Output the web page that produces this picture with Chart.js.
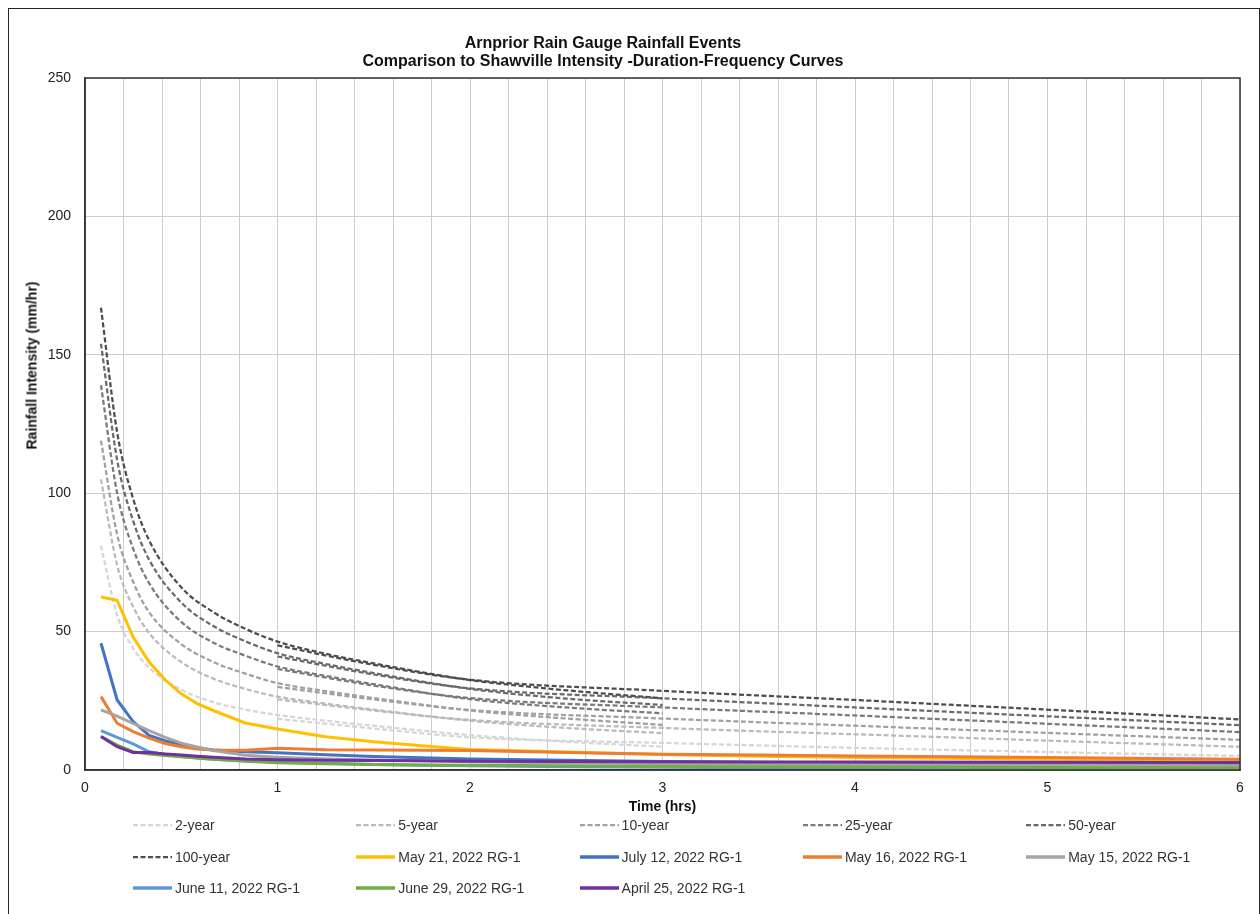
<!DOCTYPE html>
<html>
<head>
<meta charset="utf-8">
<script src="https://cdn.jsdelivr.net/npm/chart.js@4.4.0/dist/chart.umd.min.js"></script>
<style>
  body { margin: 0; background: #fff; font-family: 'Liberation Sans', Arial, sans-serif; }
  #wrap { position: relative; width: 1260px; height: 914px; overflow: hidden; }
  #frame { position: absolute; left: 8px; top: 8px; width: 1250px; height: 920px; border: 1px solid #262626; }
  #chart { position: absolute; left: 0; top: 0; }
  #title { position: absolute; left: 253px; top: 34px; width: 700px; text-align: center;
           font-weight: bold; font-size: 16px; line-height: 18px; color: #111; }
  #ytitle { position: absolute; left: -68px; top: 357px; width: 200px; height: 17px; line-height: 17px;
            text-align: center; font-weight: bold; font-size: 14px; color: #111; transform: rotate(-90deg); }
  .item { position: absolute; height: 20px; display: flex; align-items: center; font-size: 14px; color: #333; white-space: nowrap; }
  .item svg { margin-right: 3px; }
</style>
</head>
<body>
<div id="wrap">
  <div id="frame"></div>
  <canvas id="chart" width="1260" height="914"></canvas>
  <div id="title">Arnprior Rain Gauge Rainfall Events<br>Comparison to Shawville Intensity -Duration-Frequency Curves</div>
  <div id="ytitle">Rainfall Intensity (mm/hr)</div>
  <div id="legend"></div>
</div>
<script>
// IDF curves (short-duration fit up to 3 hrs, long-duration fit from 1 hr)
const idfTimesShort = [0.083, 0.167, 0.25, 0.333, 0.5, 0.667, 0.833, 1, 1.25, 1.5, 2, 2.5, 3];
const idfTimesLong = [1, 1.5, 2, 3, 4, 5, 6];

const idf2Short   = [81, 56, 44, 37, 29, 24.5, 21.8, 19.9, 17.8, 16, 12.6, 10.2, 8.4];
const idf5Short   = [105, 74, 59, 49.5, 39, 33, 29.3, 26.5, 24, 21.8, 17.8, 15.2, 13.3];
const idf10Short  = [119, 85, 68, 57, 45.5, 39, 34.8, 31.4, 28.5, 26, 21.5, 18.6, 16.3];
const idf25Short  = [139, 100, 80, 67.5, 53.5, 46, 41.3, 37.4, 34, 31, 25.6, 22.6, 20.5];
const idf50Short  = [154, 112, 90, 76, 60.5, 52, 46.5, 42.2, 38.3, 35, 29.3, 25.8, 23.5];
const idf100Short = [167, 122, 98, 83, 66, 57, 51, 46.4, 42, 38.5, 32.5, 28.8, 25.9];

const idf2Long   = [18.5, 15, 11.8, 9.8, 8.0, 6.5, 5.1];
const idf5Long   = [25.5, 21.5, 18.1, 15.2, 12.9, 10.6, 8.4];
const idf10Long  = [30, 25.5, 21.7, 18.6, 16, 13.4, 10.9];
const idf25Long  = [36.5, 30.5, 26, 22.6, 19.7, 16.7, 13.7];
const idf50Long  = [41, 34.5, 29.5, 25.9, 22.6, 19.4, 16.2];
const idf100Long = [45, 38, 32.6, 28.6, 25.3, 21.8, 18.3];

// recorded events at the Arnprior gauge
const eventTimes = [0.083, 0.167, 0.25, 0.333, 0.417, 0.5, 0.583, 0.667, 0.833, 1, 1.25, 1.5, 1.75, 2, 2.5, 3, 3.5, 4, 5, 6];
const may21 = [62.5, 61.3, 48, 39, 32.5, 27.5, 24, 21.5, 17, 14.8, 12, 10.2, 8.8, 7.4, 6.5, 5.6, 5.0, 4.5, 3.9, 3.4];
const jul12 = [45.8, 25.3, 17.5, 12.5, 10.5, 9.2, 8.0, 7.2, 6.6, 6.2, 5.5, 4.9, 4.4, 4.0, 3.5, 3.1, 2.8, 2.5, 2.1, 1.8];
const may16 = [26.5, 16.9, 13.9, 11.5, 9.6, 8.4, 7.6, 7.2, 7.1, 7.9, 7.3, 7.2, 7.1, 7.0, 6.3, 5.7, 5.4, 5.1, 4.5, 3.9];
const may15 = [21.7, 19.5, 16.8, 14.2, 11.8, 9.7, 8.3, 7.0, 5.3, 4.6, 4.0, 3.6, 3.3, 3.0, 2.6, 2.3, 2.1, 1.9, 1.7, 1.5];
const jun11 = [14.2, 11.8, 9.4, 6.6, 5.6, 4.9, 4.3, 3.9, 3.3, 2.9, 2.4, 2.0, 1.7, 1.5, 1.2, 1.0, 0.8, 0.7, 0.5, 0.4];
const jun29 = [12.1, 9.0, 6.6, 5.8, 5.2, 4.8, 4.3, 3.9, 3.2, 2.6, 2.3, 2.0, 1.8, 1.7, 1.5, 1.3, 1.2, 1.1, 0.9, 0.7];
const apr25 = [12.1, 8.4, 6.3, 6.3, 5.8, 5.4, 5.0, 4.6, 4.0, 3.7, 3.5, 3.4, 3.3, 3.2, 3.1, 3.0, 2.9, 2.9, 2.8, 2.7];

const idfSeries = [
  { label: '2-year',   short: idf2Short,   long: idf2Long,   color: '#d6d6d6' },
  { label: '5-year',   short: idf5Short,   long: idf5Long,   color: '#bababa' },
  { label: '10-year',  short: idf10Short,  long: idf10Long,  color: '#a0a0a0' },
  { label: '25-year',  short: idf25Short,  long: idf25Long,  color: '#7a7a7a' },
  { label: '50-year',  short: idf50Short,  long: idf50Long,  color: '#6a6a6a' },
  { label: '100-year', short: idf100Short, long: idf100Long, color: '#4d4d4d' }
];
const eventSeries = [
  { label: 'May 21, 2022 RG-1',   values: may21, color: '#ffc000' },
  { label: 'July 12, 2022 RG-1',  values: jul12, color: '#4472c4' },
  { label: 'May 16, 2022 RG-1',   values: may16, color: '#ed7d31' },
  { label: 'May 15, 2022 RG-1',   values: may15, color: '#a5a5a5' },
  { label: 'June 11, 2022 RG-1',  values: jun11, color: '#5b9bd5' },
  { label: 'June 29, 2022 RG-1',  values: jun29, color: '#70ad47' },
  { label: 'April 25, 2022 RG-1', values: apr25, color: '#7030a0' }
];

const DASH = [5, 2.5];
const toPoints = (xs, ys) => xs.map((x, i) => ({ x: x, y: ys[i] }));

const datasets = [];
idfSeries.forEach(s => {
  datasets.push({ label: s.label, data: toPoints(idfTimesShort, s.short), borderColor: s.color,
    borderWidth: 2.25, borderDash: DASH, cubicInterpolationMode: 'monotone' });
  datasets.push({ label: s.label + ' (long)', data: toPoints(idfTimesLong, s.long), borderColor: s.color,
    borderWidth: 2.25, borderDash: DASH, cubicInterpolationMode: 'monotone' });
});
eventSeries.forEach(s => {
  datasets.push({ label: s.label, data: toPoints(eventTimes, s.values), borderColor: s.color, borderWidth: 3 });
});
// later series on top, like the spreadsheet
datasets.forEach((d, i) => {
  d.order = datasets.length - i;
  d.showLine = true;
  d.pointRadius = 0;
  d.fill = false;
});

const plotFrame = {
  id: 'plotFrame',
  afterDraw(chart) {
    const { ctx, chartArea: a } = chart;
    ctx.save();
    ctx.strokeStyle = '#333';
    ctx.lineWidth = 1.5;
    ctx.strokeRect(a.left, a.top, a.right - a.left, a.bottom - a.top);
    ctx.restore();
  }
};

const FONT = "'Liberation Sans', Arial, sans-serif";

new Chart(document.getElementById('chart'), {
  type: 'scatter',
  data: { datasets },
  options: {
    responsive: false,
    animation: false,
    devicePixelRatio: 1,
    layout: { padding: { top: 78, right: 20, bottom: 98, left: 0 } },
    plugins: { legend: { display: false }, tooltip: { enabled: false }, title: { display: false } },
    scales: {
      x: {
        type: 'linear', min: 0, max: 6,
        afterFit: s => { s.height = 46; },
        grid: { color: '#cccccc', lineWidth: 1, drawTicks: false },
        border: { color: '#333', width: 1.5 },
        ticks: {
          stepSize: 0.2, autoSkip: false, maxRotation: 0, padding: 10, color: '#222',
          font: { family: FONT, size: 14 },
          callback: v => Math.abs(v - Math.round(v)) < 1e-6 ? String(Math.round(v)) : ''
        },
        title: { display: true, text: 'Time (hrs)', color: '#111', padding: 0,
                 font: { family: FONT, size: 14, weight: 'bold' } }
      },
      y: {
        min: 0, max: 250,
        afterFit: s => { s.width = 85; },
        grid: { color: '#cccccc', lineWidth: 1, drawTicks: false },
        border: { color: '#333', width: 1.5 },
        ticks: { stepSize: 50, padding: 14, color: '#222', font: { family: FONT, size: 14 } }
      }
    }
  },
  plugins: [plotFrame]
});

// legend laid out in five columns like the original
const legendEntries = idfSeries.map(s => ({ label: s.label, color: s.color, dashed: true }))
  .concat(eventSeries.map(s => ({ label: s.label, color: s.color, dashed: false })));
const legend = document.getElementById('legend');
legendEntries.forEach((e, i) => {
  const col = i % 5, row = Math.floor(i / 5);
  const item = document.createElement('div');
  item.className = 'item';
  item.style.left = (133 + col * 223.3) + 'px';
  item.style.top = (825 + row * 31.6 - 10) + 'px';
  const dash = e.dashed ? ' stroke-dasharray="5 2.5"' : '';
  const w = e.dashed ? 2.25 : 3.5;
  item.innerHTML = '<svg width="39" height="8"><line x1="0" y1="4" x2="39" y2="4" stroke="' + e.color +
    '" stroke-width="' + w + '"' + dash + '/></svg>' + e.label;
  legend.appendChild(item);
});
</script>
</body>
</html>
